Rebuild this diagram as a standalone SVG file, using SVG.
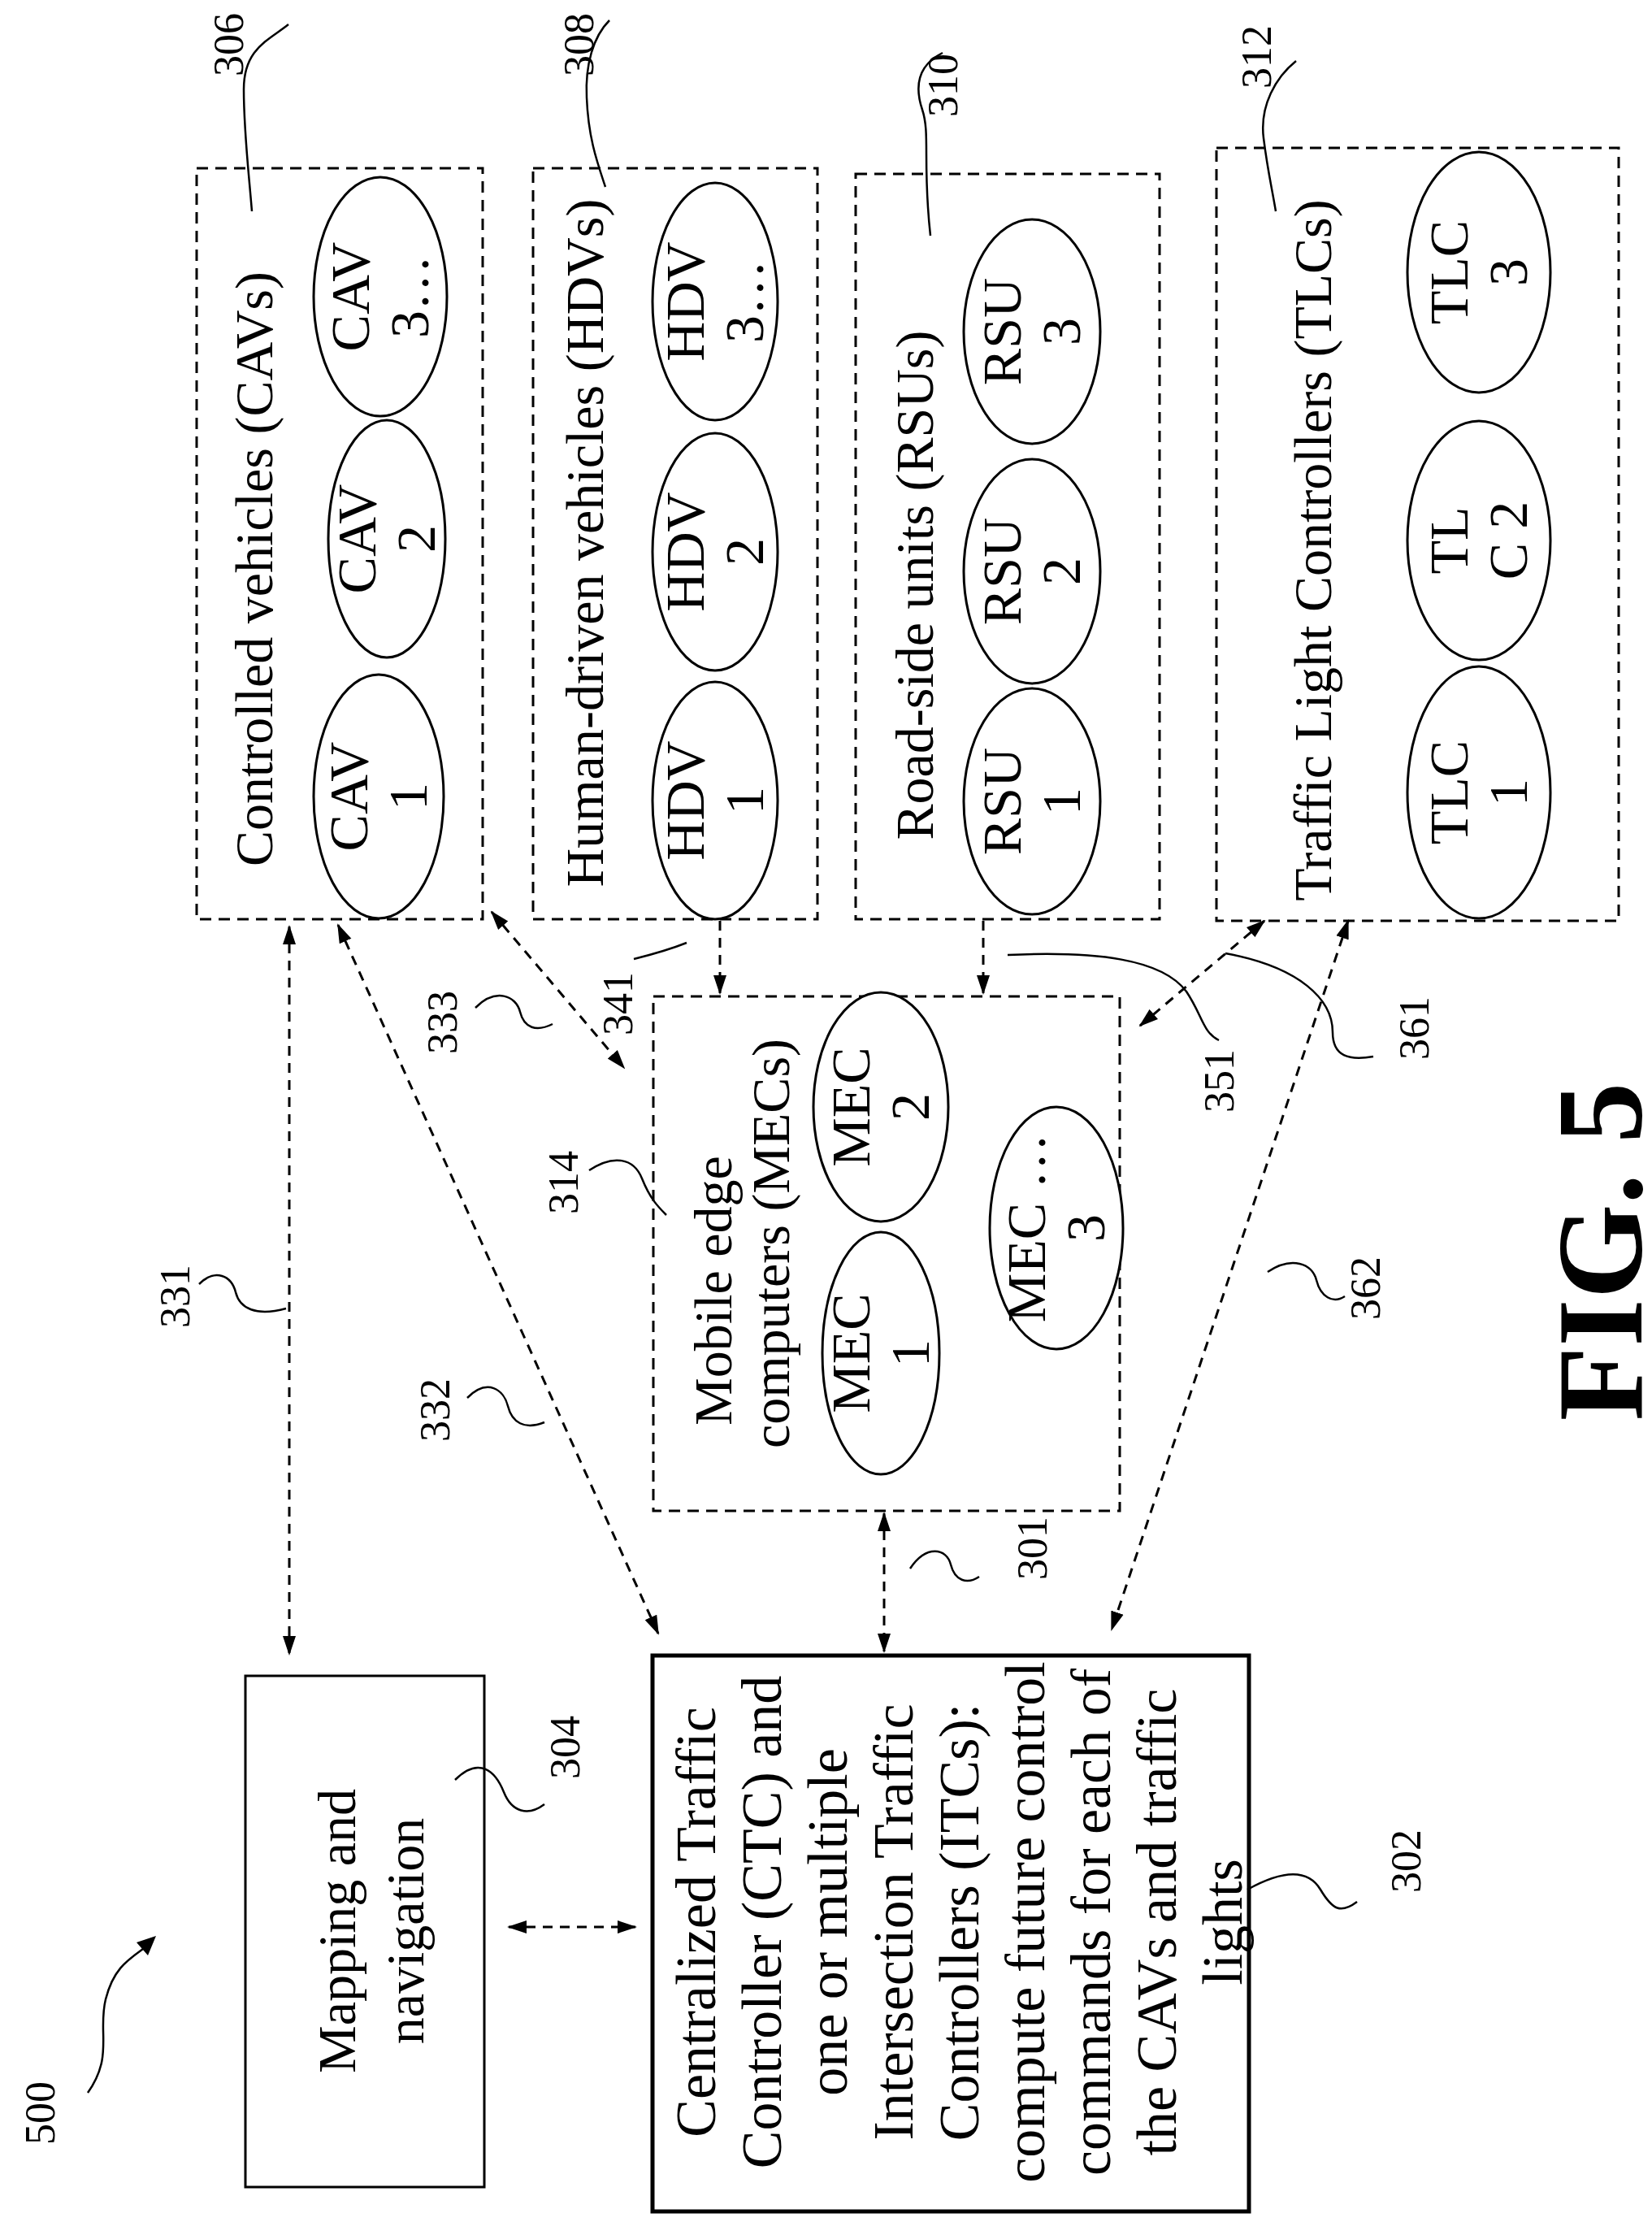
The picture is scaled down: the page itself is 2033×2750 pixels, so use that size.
<svg xmlns="http://www.w3.org/2000/svg" width="2033" height="2750" viewBox="0 0 2033 2750">
<style>
text{font-family:"Liberation Serif","Times New Roman",serif;fill:#000}
.t{font-size:66px;text-anchor:middle}
.e{font-size:68px;text-anchor:middle}
.n{font-size:52px;text-anchor:middle;dominant-baseline:central}
.box{fill:none;stroke:#000;stroke-width:3;stroke-dasharray:14 9}
.solid{fill:#fff;stroke:#000;stroke-width:3}
.thick{fill:#fff;stroke:#000;stroke-width:5}
.el{fill:#fff;stroke:#000;stroke-width:3}
.c{fill:none;stroke:#000;stroke-width:3;stroke-dasharray:12 9}
.l{fill:none;stroke:#000;stroke-width:2.5}
</style>
<defs>
<marker id="h" viewBox="0 0 24 20" refX="22" refY="10" markerWidth="24" markerHeight="20" orient="auto-start-reverse" markerUnits="userSpaceOnUse"><path d="M0,2 L24,10 L0,18 z"/></marker>
</defs>

<g id="cav">
<rect class="box" x="242" y="207" width="352" height="924"/>
<text class="t" transform="translate(335,700) rotate(-90)">Controlled vehicles (CAVs)</text>
<ellipse class="el" cx="466" cy="980" rx="80" ry="150"/>
<text class="e" transform="translate(452,980) rotate(-90)">CAV</text><text class="e" transform="translate(525,980) rotate(-90)">1</text>
<ellipse class="el" cx="476" cy="663" rx="72" ry="146"/>
<text class="e" transform="translate(462,663) rotate(-90)">CAV</text><text class="e" transform="translate(535,663) rotate(-90)">2</text>
<ellipse class="el" cx="468" cy="365" rx="82" ry="147"/>
<text class="e" transform="translate(454,365) rotate(-90)">CAV</text><text class="e" transform="translate(527,365) rotate(-90)">3…</text>
</g>

<g id="hdv">
<rect class="box" x="656" y="207" width="350" height="924"/>
<text class="t" transform="translate(742,668) rotate(-90)">Human-driven vehicles (HDVs)</text>
<ellipse class="el" cx="880" cy="985" rx="77" ry="146"/>
<text class="e" transform="translate(866,985) rotate(-90)">HDV</text><text class="e" transform="translate(939,985) rotate(-90)">1</text>
<ellipse class="el" cx="880" cy="679" rx="77" ry="146"/>
<text class="e" transform="translate(866,679) rotate(-90)">HDV</text><text class="e" transform="translate(939,679) rotate(-90)">2</text>
<ellipse class="el" cx="880" cy="371" rx="77" ry="146"/>
<text class="e" transform="translate(866,371) rotate(-90)">HDV</text><text class="e" transform="translate(939,371) rotate(-90)">3…</text>
</g>

<g id="rsu">
<rect class="box" x="1053" y="214" width="374" height="917"/>
<text class="t" transform="translate(1148,720) rotate(-90)">Road-side units (RSUs)</text>
<ellipse class="el" cx="1270" cy="986" rx="84" ry="139"/>
<text class="e" transform="translate(1256,986) rotate(-90)">RSU</text><text class="e" transform="translate(1329,986) rotate(-90)">1</text>
<ellipse class="el" cx="1270" cy="703" rx="84" ry="138"/>
<text class="e" transform="translate(1256,703) rotate(-90)">RSU</text><text class="e" transform="translate(1329,703) rotate(-90)">2</text>
<ellipse class="el" cx="1270" cy="408" rx="84" ry="138"/>
<text class="e" transform="translate(1256,408) rotate(-90)">RSU</text><text class="e" transform="translate(1329,408) rotate(-90)">3</text>
</g>

<g id="tlc">
<rect class="box" x="1497" y="182" width="495" height="951"/>
<text class="t" transform="translate(1638,677) rotate(-90)">Traffic Light Controllers (TLCs)</text>
<ellipse class="el" cx="1820" cy="975" rx="88" ry="155"/>
<text class="e" transform="translate(1806,975) rotate(-90)">TLC</text><text class="e" transform="translate(1879,975) rotate(-90)">1</text>
<ellipse class="el" cx="1820" cy="665" rx="88" ry="147"/>
<text class="e" transform="translate(1806,665) rotate(-90)">TL</text><text class="e" transform="translate(1879,665) rotate(-90)">C 2</text>
<ellipse class="el" cx="1820" cy="335" rx="88" ry="148"/>
<text class="e" transform="translate(1806,335) rotate(-90)">TLC</text><text class="e" transform="translate(1879,335) rotate(-90)">3</text>
</g>

<g id="mec">
<rect class="box" x="804" y="1226" width="574" height="633"/>
<text class="t" transform="translate(900,1588) rotate(-90)">Mobile edge</text>
<text class="t" transform="translate(971,1530) rotate(-90)">computers (MECs)</text>
<ellipse class="el" cx="1084" cy="1665" rx="72" ry="149"/>
<text class="e" transform="translate(1070,1665) rotate(-90)">MEC</text><text class="e" transform="translate(1143,1665) rotate(-90)">1</text>
<ellipse class="el" cx="1084" cy="1362" rx="83" ry="141"/>
<text class="e" transform="translate(1070,1362) rotate(-90)">MEC</text><text class="e" transform="translate(1143,1362) rotate(-90)">2</text>
<ellipse class="el" cx="1300" cy="1511" rx="82" ry="149"/>
<text class="e" transform="translate(1286,1511) rotate(-90)">MEC …</text><text class="e" transform="translate(1359,1511) rotate(-90)">3</text>
</g>

<g id="mapping">
<rect class="solid" x="302" y="2062" width="294" height="629"/>
<text class="t" transform="translate(437,2376) rotate(-90)">Mapping and</text>
<text class="t" transform="translate(521,2376) rotate(-90)">navigation</text>
</g>

<g id="ctc">
<rect class="thick" x="803" y="2037" width="734" height="684"/>
<g style="font-size:70px">
<text class="t" style="font-size:70px" transform="translate(880,2365) rotate(-90)">Centralized Traffic</text>
<text class="t" style="font-size:70px" transform="translate(961,2365) rotate(-90)">Controller (CTC) and</text>
<text class="t" style="font-size:70px" transform="translate(1042,2365) rotate(-90)">one or multiple</text>
<text class="t" style="font-size:70px" transform="translate(1123,2365) rotate(-90)">Intersection Traffic</text>
<text class="t" style="font-size:70px" transform="translate(1204,2365) rotate(-90)">Controllers (ITCs):</text>
<text class="t" style="font-size:70px" transform="translate(1285,2365) rotate(-90)">compute future control</text>
<text class="t" style="font-size:70px" transform="translate(1366,2365) rotate(-90)">commands for each of</text>
<text class="t" style="font-size:70px" transform="translate(1447,2365) rotate(-90)">the CAVs and traffic</text>
<text class="t" style="font-size:70px" transform="translate(1528,2365) rotate(-90)">lights</text>
</g>
</g>

<g id="connectors">
<line class="c" x1="356" y1="1140" x2="356" y2="2035" marker-start="url(#h)" marker-end="url(#h)"/>
<line class="c" x1="416" y1="1138" x2="810" y2="2010" marker-start="url(#h)" marker-end="url(#h)"/>
<line class="c" x1="605" y1="1122" x2="768" y2="1314" marker-start="url(#h)" marker-end="url(#h)"/>
<line class="c" x1="886" y1="1133" x2="886" y2="1222" marker-end="url(#h)"/>
<line class="c" x1="1210" y1="1133" x2="1210" y2="1222" marker-end="url(#h)"/>
<line class="c" x1="1556" y1="1133" x2="1403" y2="1262" marker-start="url(#h)" marker-end="url(#h)"/>
<line class="c" x1="1659" y1="1133" x2="1368" y2="2005" marker-start="url(#h)" marker-end="url(#h)"/>
<line class="c" x1="626" y1="2371" x2="782" y2="2371" marker-start="url(#h)" marker-end="url(#h)"/>
<line class="c" x1="1088" y1="1862" x2="1088" y2="2032" marker-start="url(#h)" marker-end="url(#h)"/>
</g>

<g id="labels">
<text class="n" transform="translate(49,2600) rotate(-90)">500</text>
<path class="l" d="M108,2575 C140,2530 120,2500 130,2460 C140,2420 160,2410 180,2395" stroke-width="4"/>
<path d="M168,2390 L192,2382 L182,2406 z"/>
<text class="n" transform="translate(695,2150) rotate(-90)">304</text>
<path class="l" d="M560,2190 C590,2160 610,2180 620,2205 C630,2230 650,2235 670,2220"/>
<text class="n" transform="translate(1730,2290) rotate(-90)">302</text>
<path class="l" d="M1535,2325 C1580,2300 1610,2300 1625,2325 C1640,2350 1650,2355 1670,2340"/>
<text class="n" transform="translate(1270,1905) rotate(-90)">301</text>
<path class="l" d="M1120,1930 C1140,1900 1165,1905 1170,1925 C1175,1945 1190,1950 1205,1940"/>
<text class="n" transform="translate(215,1595) rotate(-90)">331</text>
<path class="l" d="M245,1580 C265,1560 285,1570 290,1590 C295,1610 315,1620 352,1610"/>
<text class="n" transform="translate(535,1735) rotate(-90)">332</text>
<path class="l" d="M575,1720 C600,1695 620,1710 625,1730 C630,1750 645,1760 670,1750"/>
<text class="n" transform="translate(544,1258) rotate(-90)">333</text>
<path class="l" d="M585,1240 C610,1215 635,1225 640,1245 C645,1265 660,1270 680,1260"/>
<text class="n" transform="translate(760,1235) rotate(-90)">341</text>
<path class="l" d="M780,1180 C800,1175 820,1170 845,1160"/>
<text class="n" transform="translate(693,1455) rotate(-90)">314</text>
<path class="l" d="M725,1440 C755,1420 780,1425 790,1450 C800,1475 810,1485 820,1495"/>
<text class="n" transform="translate(1500,1330) rotate(-90)">351</text>
<path class="l" d="M1240,1175 C1350,1170 1430,1180 1460,1220 C1480,1250 1480,1270 1500,1280"/>
<text class="n" transform="translate(1740,1265) rotate(-90)">361</text>
<path class="l" d="M1508,1173 C1600,1190 1640,1230 1640,1270 C1640,1300 1660,1305 1690,1300"/>
<text class="n" transform="translate(1680,1585) rotate(-90)">362</text>
<path class="l" d="M1560,1565 C1590,1545 1615,1555 1620,1575 C1625,1595 1640,1605 1655,1595"/>
<text class="n" transform="translate(281,55) rotate(-90)">306</text>
<path class="l" d="M355,30 C330,50 300,60 300,110 C300,160 305,200 310,260"/>
<text class="n" transform="translate(712,55) rotate(-90)">308</text>
<path class="l" d="M750,25 C730,45 720,80 722,120 C724,170 735,200 745,230"/>
<text class="n" transform="translate(1160,105) rotate(-90)">310</text>
<path class="l" d="M1160,65 C1130,80 1125,105 1135,135 C1145,165 1135,200 1145,290"/>
<text class="n" transform="translate(1546,70) rotate(-90)">312</text>
<path class="l" d="M1595,75 C1570,95 1550,130 1555,170 C1560,210 1565,230 1570,260"/>
<text transform="translate(2020,1540) rotate(-90)" style="font-size:150px;font-weight:bold;text-anchor:middle">FIG. 5</text>
</g>
</svg>
